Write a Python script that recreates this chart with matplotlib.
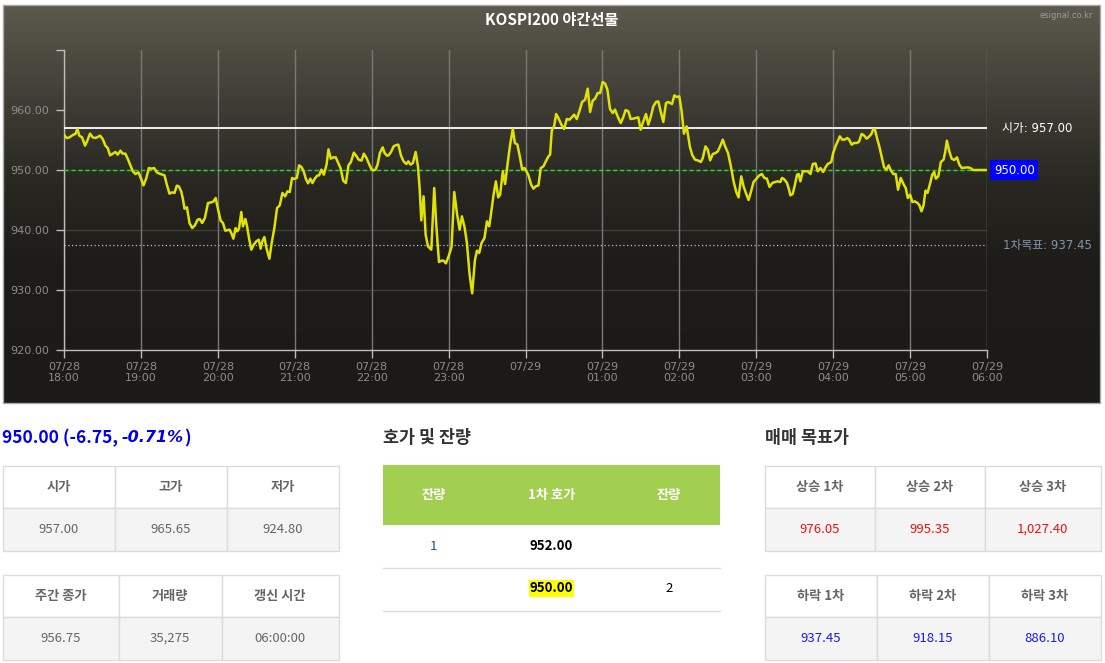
import matplotlib
matplotlib.use('Agg')
import matplotlib.pyplot as plt
from matplotlib.patches import Rectangle
import numpy as np

plt.rcParams['font.family'] = ['Noto Sans CJK KR', 'DejaVu Sans']

W, H = 1105, 663

# night futures price, minutes since 07/28 18:00
t_min = [
    0, 2.1, 4.2, 7.3, 8.9, 10.4, 12.0, 14.1, 16.4, 18.2,
    20.3, 22.4, 24.5, 26.3, 28.1, 30.2, 32.3, 34.1, 35.9, 38.0,
    40.1, 41.9, 44.0, 45.8, 47.9, 49.8, 51.6, 53.7, 55.7, 58.1,
    60.2, 62.0, 64.1, 66.2, 68.3, 70.3, 72.4, 74.5, 78.4, 80.2,
    82.3, 84.4, 86.2, 88.0, 89.6, 91.4, 92.7, 94.0, 95.9, 97.9,
    100.0, 102.1, 104.2, 105.8, 107.8, 109.9, 112.3, 114.9, 116.7, 118.3,
    120.4, 122.2, 124.0, 125.8, 127.1, 129.2, 130.8, 132.1, 133.9, 135.2,
    136.5, 138.3, 139.6, 141.5, 142.8, 144.3, 146.1, 148.0, 150.0, 151.9,
    153.4, 154.7, 156.3, 157.9, 160.2, 162.0, 164.1, 166.2, 168.3, 170.4,
    172.5, 174.3, 176.1, 177.9, 179.5, 181.6, 183.4, 185.2, 187.0, 188.6,
    190.4, 192.2, 193.8, 195.6, 197.5, 199.0, 200.8, 202.7, 204.8, 206.3,
    208.1, 210.0, 212.0, 213.9, 215.7, 217.8, 219.9, 221.9, 223.8, 226.1,
    227.9, 229.8, 232.1, 233.9, 236.0, 237.6, 239.7, 241.3, 243.0, 244.6,
    246.4, 248.6, 250.1, 251.9, 253.2, 255.1, 257.1, 259.2, 260.8, 262.9,
    264.9, 267.0, 268.6, 270.4, 272.2, 274.3, 276.1, 277.4, 278.7, 280.5,
    282.1, 283.9, 286.5, 288.8, 290.4, 292.5, 294.5, 296.1, 297.9, 300.0,
    302.3, 304.4, 306.5, 308.6, 310.4, 312.5, 314.3, 316.4, 318.4, 320.5,
    322.1, 323.9, 325.7, 328.0, 329.9, 331.7, 333.0, 335.1, 336.9, 338.7,
    340.2, 342.3, 344.1, 346.2, 348.0, 350.1, 351.7, 353.7, 355.8, 357.4,
    359.2, 360.5, 362.3, 364.4, 366.2, 368.0, 370.1, 371.9, 374.0, 375.6,
    377.9, 379.2, 380.5, 382.3, 383.9, 385.9, 388.0, 390.1, 392.2, 394.3,
    396.1, 397.9, 400.0, 402.0, 404.1, 406.5, 408.5, 410.4, 412.4, 414.3,
    416.3, 418.2, 420.2, 422.1, 423.9, 425.9, 428.0, 429.8, 432.4, 434.3,
    436.3, 438.1, 440.2, 442.0, 444.1, 446.2, 448.0, 449.8, 451.9, 454.0,
    455.8, 457.6, 459.7, 461.8, 463.6, 465.4, 467.5, 469.6, 471.4, 472.7,
    474.3, 476.1, 477.9, 480.0, 481.8, 483.6, 485.7, 488.3, 490.2, 492.3,
    494.9, 496.7, 498.3, 500.4, 502.2, 504.0, 506.1, 508.2, 510.0, 511.8,
    513.9, 515.7, 518.0, 520.2, 522.3, 524.4, 526.2, 528.3, 530.1, 532.2,
    534.0, 535.8, 537.9, 540.0, 542.1, 544.4, 546.3, 548.3, 550.4, 552.5,
    554.6, 556.7, 558.8, 560.1, 561.9, 564.0, 565.6, 566.6, 568.4, 570.0,
    571.8, 573.1, 574.4, 576.3, 578.3, 580.2, 582.3, 584.1, 586.2, 588.0,
    590.1, 592.2, 594.0, 595.8, 598.5, 600.0, 601.8, 603.7, 605.2, 607.1,
    608.9, 611.0, 612.5, 614.4, 616.2, 618.3, 620.1, 622.2, 624.0, 626.1,
    628.0, 629.8, 631.3, 632.6, 634.5, 636.0, 637.9, 639.7, 641.5, 643.3,
    644.9, 647.0, 648.8, 650.6, 652.7, 654.8, 656.6, 658.2, 660.0, 661.8,
    663.7, 665.8, 667.3, 668.9, 670.5, 672.0, 673.6, 675.7, 677.3, 678.8,
    680.1, 682.0, 684.0, 686.1, 687.4, 688.7, 690.6, 692.4, 694.5, 696.6,
    698.4, 700.3, 702.4, 705.0, 707.1, 708.9, 711.5, 720.0,
]
price = [
    955.89, 955.33, 955.44, 955.89, 956.00, 956.83, 955.72, 955.44, 954.06, 954.89,
    956.06, 955.44, 955.33, 955.50, 955.72, 955.17, 954.06, 953.67, 952.44, 952.72,
    953.00, 952.56, 953.22, 952.72, 952.72, 951.83, 950.89, 949.78, 949.33, 949.61,
    948.50, 947.44, 948.56, 950.33, 950.22, 950.33, 949.61, 949.39, 949.11, 947.56,
    946.06, 946.28, 946.17, 947.39, 947.28, 946.44, 945.22, 943.56, 943.78, 941.17,
    940.33, 940.78, 941.72, 941.83, 941.17, 942.00, 944.50, 944.61, 944.78, 945.33,
    943.22, 941.56, 941.17, 939.89, 939.94, 940.06, 939.33, 938.56, 940.33, 939.78,
    940.22, 943.00, 940.61, 941.83, 940.61, 938.67, 936.72, 937.56, 938.11, 938.39,
    936.89, 938.11, 938.83, 937.00, 935.22, 937.83, 940.33, 943.67, 944.11, 946.17,
    945.61, 946.44, 946.33, 948.67, 948.50, 948.67, 950.78, 950.50, 949.78, 948.56,
    947.78, 948.56, 947.83, 948.56, 949.06, 949.11, 950.06, 949.22, 950.89, 953.44,
    951.89, 952.11, 952.11, 951.17, 950.33, 948.22, 947.83, 950.78, 951.33, 952.89,
    952.39, 951.72, 951.56, 952.72, 952.00, 951.17, 950.17, 949.94, 950.06, 950.89,
    952.83, 953.78, 952.83, 952.39, 952.44, 953.00, 953.94, 954.17, 954.22, 952.39,
    951.44, 951.00, 951.44, 950.89, 951.17, 953.00, 950.61, 947.00, 941.61, 945.61,
    939.22, 937.28, 936.72, 947.00, 940.89, 934.67, 934.89, 934.89, 934.44, 935.61,
    937.17, 946.33, 942.83, 940.06, 942.28, 940.44, 937.83, 932.56, 929.44, 934.89,
    936.56, 936.17, 937.83, 938.67, 941.44, 940.61, 942.56, 945.89, 948.11, 945.44,
    945.89, 949.78, 947.67, 951.33, 954.22, 956.83, 954.50, 954.22, 952.00, 950.06,
    950.33, 949.89, 949.11, 947.56, 946.89, 947.28, 947.44, 950.33, 950.61, 951.33,
    952.28, 952.56, 956.61, 957.28, 959.33, 958.56, 957.56, 956.83, 958.50, 958.39,
    958.78, 959.22, 958.50, 959.78, 961.33, 961.72, 963.56, 959.67, 961.56, 961.89,
    962.83, 962.83, 964.67, 964.39, 963.39, 960.17, 959.50, 960.06, 958.67, 957.83,
    958.83, 960.00, 959.78, 958.50, 958.56, 958.67, 958.78, 956.72, 958.11, 959.33,
    957.56, 958.78, 960.61, 961.33, 961.44, 959.78, 958.00, 961.17, 961.33, 961.17,
    961.00, 962.44, 962.17, 962.28, 959.78, 956.06, 957.28, 953.78, 952.44, 951.72,
    951.56, 951.33, 952.00, 953.94, 953.39, 951.61, 952.67, 952.83, 953.11, 953.94,
    955.06, 953.94, 952.83, 950.61, 948.11, 946.33, 945.44, 948.94, 947.28, 946.00,
    945.00, 946.33, 948.00, 948.50, 949.06, 949.33, 948.67, 948.56, 947.17, 947.83,
    948.00, 948.11, 948.00, 948.67, 948.44, 947.83, 946.72, 945.78, 946.00, 947.39,
    949.22, 949.33, 948.11, 949.78, 949.78, 949.78, 949.33, 951.00, 951.11, 949.78,
    950.33, 949.67, 950.44, 951.00, 951.33, 952.83, 953.94, 954.89, 955.61, 955.06,
    955.06, 955.33, 955.06, 954.22, 954.50, 954.50, 954.67, 956.00, 955.78, 955.22,
    955.56, 956.00, 956.83, 956.72, 955.06, 953.94, 952.11, 950.44, 950.06, 950.78,
    949.94, 949.33, 949.33, 946.72, 948.67, 947.67, 947.00, 945.33, 945.89, 944.67,
    944.78, 944.50, 944.11, 943.11, 944.11, 946.56, 946.17, 947.83, 949.22, 949.67,
    948.56, 948.94, 951.33, 951.72, 953.00, 954.89, 953.11, 951.89, 951.67, 952.11,
    950.89, 950.33, 950.39, 950.44, 950.33, 950.00, 950.00, 950.00,
]

open_px = 957.00
last_px = 950.00
target_1 = 937.45

hour_ticks = [0, 60, 120, 180, 240, 300, 360, 420, 480, 540, 600, 660, 720]
hour_labels = ['07/28\n18:00', '07/28\n19:00', '07/28\n20:00', '07/28\n21:00',
               '07/28\n22:00', '07/28\n23:00', '07/29', '07/29\n01:00',
               '07/29\n02:00', '07/29\n03:00', '07/29\n04:00', '07/29\n05:00',
               '07/29\n06:00']
y_ticks = [920, 930, 940, 950, 960, 970]

# summary tables
tbl1_head = ['시가', '고가', '저가']
tbl1_vals = ['957.00', '965.65', '924.80']
tbl2_head = ['주간 종가', '거래량', '갱신 시간']
tbl2_vals = ['956.75', '35,275', '06:00:00']
quote_head = ['잔량', '1차 호가', '잔량']
ask_row = ['1', '952.00', '']
bid_row = ['', '950.00', '2']
up_head = ['상승 1차', '상승 2차', '상승 3차']
up_vals = ['976.05', '995.35', '1,027.40']
dn_head = ['하락 1차', '하락 2차', '하락 3차']
dn_vals = ['937.45', '918.15', '886.10']

fig = plt.figure(figsize=(W / 100, H / 100), dpi=100)
fig.patch.set_facecolor('white')

# overlay axes in pixel coords (y down)
ov = fig.add_axes([0, 0, 1, 1], zorder=0)
ov.axis('off')

# dark gradient chart panel
stops = [(0.0, (92, 89, 77)), (0.25, (62, 60, 52)), (0.45, (40, 39, 34)),
         (0.65, (29, 28, 24)), (1.0, (27, 26, 22))]
pos = np.linspace(0, 1, 400)
grad = np.zeros((400, 1, 3))
for c in range(3):
    grad[:, 0, c] = np.interp(pos, [s[0] for s in stops], [s[1][c] for s in stops]) / 255
ov.imshow(grad, extent=[3, 1100, 403, 5], aspect='auto', zorder=0)
ov.add_patch(Rectangle((3, 5), 1097, 398, fill=False, ec='#a8a8a8', lw=1, zorder=1))
ov.set_xlim(0, W)
ov.set_ylim(H, 0)

ov.text(552, 20, 'KOSPI200 야간선물', ha='center', va='center', color='white',
        fontsize=11, fontweight='bold')
ov.text(1093, 16, 'esignal.co.kr', ha='right', va='center', color='#9a9a9a', fontsize=6,
        family=['DejaVu Sans'])

# price chart
ax = fig.add_axes([64 / W, 1 - 350 / H, 923 / W, 300 / H], zorder=2)
ax.set_facecolor('none')
ax.set_xlim(0, 720)
ax.set_ylim(920, 970)

for v in [930, 940, 950, 960]:
    ax.axhline(v, color='#3e3c37', lw=1, zorder=0)
ax.set_xticks(hour_ticks)
ax.set_xticklabels(hour_labels)
ax.set_yticks(y_ticks)
ax.set_yticklabels([f'{v:.2f}' if v < 970 else '' for v in y_ticks])
ax.grid(axis='x', color='#787878', lw=1)
ax.set_axisbelow(True)

ax.axhline(open_px, color='white', lw=1.3, zorder=3)
ax.axhline(last_px, color='#22dd22', lw=1, ls=(0, (3, 2)), zorder=3)
ax.axhline(target_1, color='#b4bed0', lw=0.9, ls=(0, (1, 2)), zorder=3)
ax.plot(t_min, price, color='#e2e200', lw=1.8, zorder=5)

for s in ['top', 'right']:
    ax.spines[s].set_visible(False)
for s in ['left', 'bottom']:
    ax.spines[s].set_color('#bdbdbd')
    ax.spines[s].set_linewidth(1)
ax.tick_params(axis='y', length=6, width=1, color='#bdbdbd', labelcolor='#8c8c8c',
               labelsize=8, pad=5)
ax.tick_params(axis='x', length=6, width=1, color='#bdbdbd', labelcolor='#8c8c8c',
               labelsize=8, pad=2.5)
for lab in ax.get_xticklabels() + ax.get_yticklabels():
    lab.set_family(['DejaVu Sans'])

ytr = ax.get_yaxis_transform()
ax.text(1.016, open_px, f'시가: {open_px:.2f}', transform=ytr, ha='left', va='center',
        color='white', fontsize=8.5, family=['DejaVu Sans', 'Noto Sans CJK KR'], clip_on=False)
ax.text(1.0075, last_px, f'{last_px:.2f}', transform=ytr, ha='left', va='center',
        color='white', fontsize=8.5, family=['DejaVu Sans'], clip_on=False,
        bbox=dict(boxstyle='square,pad=0.3', fc='#0000ff', ec='none'))
ax.text(1.0175, target_1, f'1차목표: {target_1:.2f}', transform=ytr, ha='left', va='center',
        color='#7f96b0', fontsize=8.5, family=['DejaVu Sans', 'Noto Sans CJK KR'],
        clip_on=False)

# --- bottom info section ---
renderer = fig.canvas.get_renderer()
x = 2
for s, st, fam, fs in [('950.00 (-6.75, ', 'normal', 'Noto Sans CJK KR', 12.5),
                       ('-0.71%', 'oblique', 'DejaVu Sans', 11.5),
                       (')', 'normal', 'Noto Sans CJK KR', 12.5)]:
    t = ov.text(x, 438, s, ha='left', va='center', color='#0000ee', fontsize=fs,
                fontweight='bold', fontstyle=st, family=[fam])
    x = t.get_window_extent(renderer).x1

ov.text(383, 438, '호가 및 잔량', ha='left', va='center', color='#333333', fontsize=12.5,
        fontweight='bold')
ov.text(765, 438, '매매 목표가', ha='left', va='center', color='#333333', fontsize=12.5,
        fontweight='bold')


def info_table(xs, y0, heads, vals, vcolor):
    ym, y1 = y0 + 42.5, y0 + 85
    for i in range(3):
        w = xs[i + 1] - xs[i]
        ov.add_patch(Rectangle((xs[i], y0), w, ym - y0, fc='white', ec='#dcdcdc', lw=1))
        ov.add_patch(Rectangle((xs[i], ym), w, y1 - ym, fc='#f4f4f4', ec='#dcdcdc', lw=1))
        cx = (xs[i] + xs[i + 1]) / 2
        ov.text(cx, (y0 + ym) / 2, heads[i], ha='center', va='center', fontsize=9.5,
                fontweight='bold', color='#666666')
        ov.text(cx, (ym + y1) / 2, vals[i], ha='center', va='center', fontsize=9.5,
                color=vcolor)


info_table([2.5, 114.5, 226.5, 338.5], 465.5, tbl1_head, tbl1_vals, '#666666')
info_table([2.5, 118.5, 221.5, 338.5], 574.5, tbl2_head, tbl2_vals, '#666666')
info_table([764.5, 874.5, 984.5, 1100.5], 465.5, up_head, up_vals, '#ee1111')
info_table([764.5, 876.5, 988.5, 1100.5], 574.5, dn_head, dn_vals, '#1a1aee')

# quote table
ov.add_patch(Rectangle((383, 465), 337, 60, fc='#a2cf50', ec='none'))
qx = [433.5, 551.5, 669]
for cx, h in zip(qx, quote_head):
    ov.text(cx, 495, h, ha='center', va='center', color='white', fontsize=9.5,
            fontweight='bold')
ov.text(qx[0], 546, ask_row[0], ha='center', va='center', color='#1f4e8c', fontsize=9.5)
ov.text(qx[1], 546, ask_row[1], ha='center', va='center', color='black', fontsize=9.5,
        fontweight='bold')
ov.text(qx[1], 588.5, bid_row[1], ha='center', va='center', color='black', fontsize=9.5,
        fontweight='bold', bbox=dict(boxstyle='square,pad=0.08', fc='#ffff00', ec='none'))
ov.text(qx[2], 588.5, bid_row[2], ha='center', va='center', color='black', fontsize=9.5)
for yy in [567.5, 610.5]:
    ov.plot([383, 720], [yy, yy], color='#dcdcdc', lw=1)

fig.savefig('out.png', dpi=100)
